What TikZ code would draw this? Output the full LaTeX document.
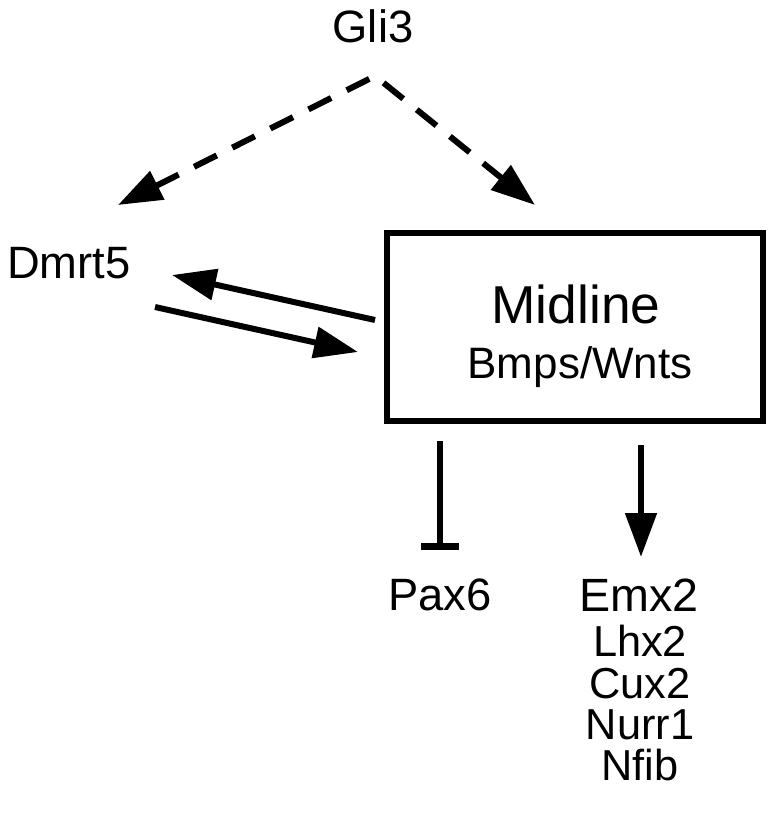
\documentclass[tikz,border=0pt]{standalone}
\usepackage{fontspec}
\setmainfont{Liberation Sans}
\usetikzlibrary{arrows.meta}

\tikzset{
  lbl/.style={inner sep=0pt, font=\fontsize{34}{40}\selectfont},
  sublbl/.style={inner sep=0pt, font=\fontsize{32.5}{38}\selectfont},
  head/.tip={Triangle[length=33pt,width=23pt]},
  link/.style={line width=4.5pt, -head},
  dashlink/.style={line width=4.5pt, dash pattern=on 19pt off 13pt},
  block/.style={line width=4.5pt, -{Bar[width=28pt,line width=5pt]}}
}

\begin{document}
\begin{tikzpicture}[x=0.75pt,y=0.75pt,yscale=-1,xscale=1]
\useasboundingbox (0,0) rectangle (774,825);

%Shape: Rectangle
\node [draw, line width=4.5pt, minimum width=282pt, minimum height=141pt, inner sep=0pt] (midline) at (575,327) {};

% Text Node
\node [lbl, anchor=base] (gli3) at (373,42) {Gli3};
% Text Node
\node [lbl, anchor=base west] (dmrt5) at (7,278) {Dmrt5};
% Text Node
\node [inner sep=0pt, anchor=base, font=\fontsize{40}{46}\selectfont] (midtitle) at (576,323) {Midline};
% Text Node
\node [inner sep=0pt, anchor=base, font=\fontsize{33}{38}\selectfont] (midsub) at (580,378) {Bmps/Wnts};
% Text Node
\node [lbl, anchor=base] (pax6) at (440,610) {Pax6};
% Text Node
\node [inner sep=0pt, anchor=base, font=\fontsize{35}{40}\selectfont] (emx2) at (639,611) {Emx2};
% Text Node
\node [sublbl, anchor=base] (lhx2) at (640,656) {Lhx2};
% Text Node
\node [sublbl, anchor=base] (cux2) at (640,698) {Cux2};
% Text Node
\node [sublbl, anchor=base] (nurr1) at (640,739) {Nurr1};
% Text Node
\node [sublbl, anchor=base] (nfib) at (640,780) {Nfib};

\coordinate (apex) at (375,76);
\coordinate (dmrtin) at (118,205);
\coordinate (midin) at (535,205);
\coordinate (backout) at (375,320);
\coordinate (backin) at (172,275);
\coordinate (fwdout) at (155,307);
\coordinate (fwdin) at (358,352);
\coordinate (pax6out) at (440,441);
\coordinate (pax6in) at (440,550);
\coordinate (emx2out) at (641,445);
\coordinate (emx2in) at (641,557);

%Straight Lines
\draw [dashlink, head-head] (dmrtin) -- (apex) -- (midin);
%Straight Lines
\draw [link] (backout) -- (backin);
\draw [link] (fwdout) -- (fwdin);
%Straight Lines
\draw [block] (pax6out) -- (pax6in);
\draw [link] (emx2out) -- (emx2in);
\end{tikzpicture}
\end{document}
